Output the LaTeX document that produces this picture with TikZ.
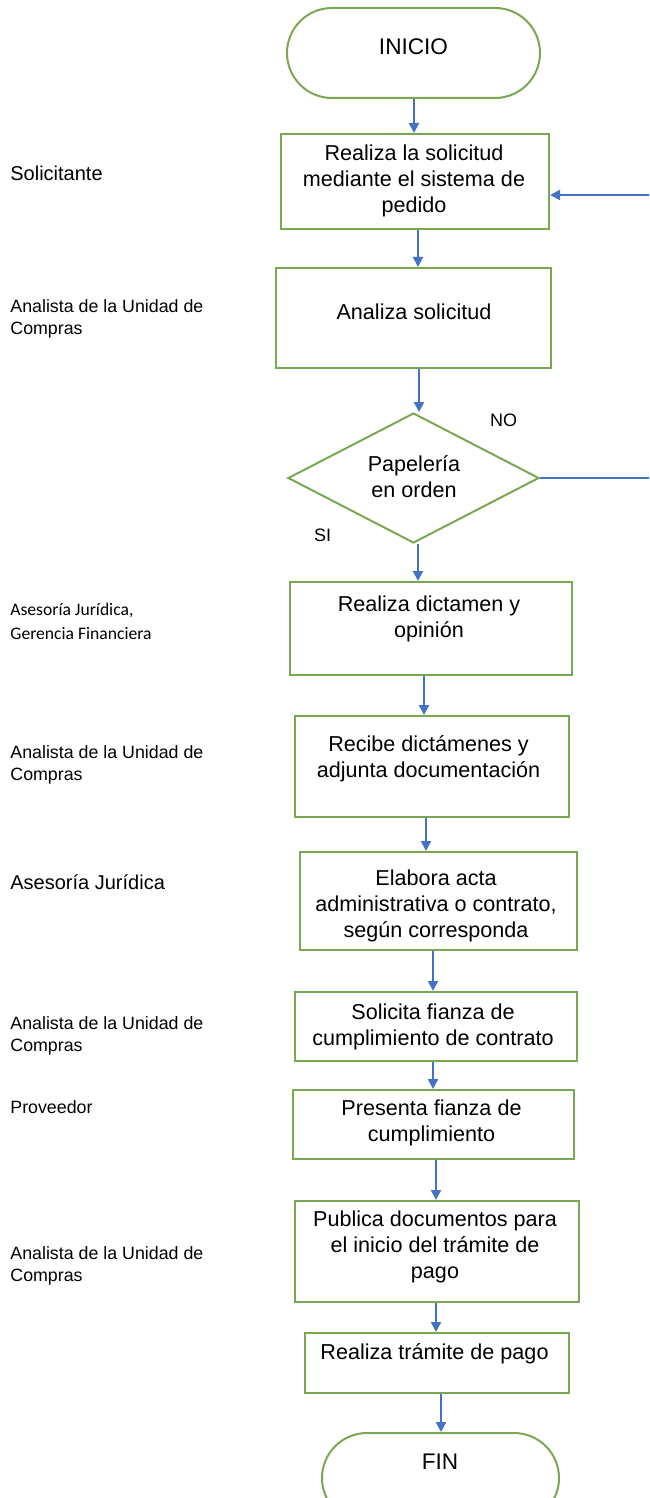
\documentclass[tikz,border=0pt]{standalone}
\usepackage{fontspec}
\setmainfont{Liberation Sans}
\newfontfamily\calfont{Carlito}
\usetikzlibrary{shapes.geometric,shapes.misc,arrows.meta}
\definecolor{boxgreen}{RGB}{122,168,82}
\definecolor{arrblue}{RGB}{68,114,196}
\begin{document}
\begin{tikzpicture}[x=0.5pt,y=-0.5pt,
  box/.style={draw=boxgreen,line width=1pt,rectangle,inner sep=0pt},
  term/.style={draw=boxgreen,line width=1pt,rounded rectangle,inner sep=0pt},
  dia/.style={draw=boxgreen,line width=1pt,diamond,inner sep=0pt},
  txt/.style={font=\fontsize{10.8}{13}\selectfont,align=center,inner sep=0pt},
  ttxt/.style={font=\fontsize{11.3}{13}\selectfont,inner sep=0pt},
  lab/.style={font=\fontsize{10}{12}\selectfont,align=left,anchor=west,inner sep=0pt},
  slab/.style={font=\fontsize{8.9}{11}\selectfont,align=left,anchor=west,inner sep=0pt},
  clab/.style={font=\calfont\fontsize{8.8}{12}\selectfont,align=left,anchor=west,inner sep=0pt},
  yn/.style={font=\fontsize{9}{11}\selectfont,inner sep=0pt},
  arr/.style={draw=arrblue,line width=1pt,-{Triangle[length=5pt,width=5pt]}}]
\useasboundingbox (0,0) rectangle (649,1498);
\fill[white] (0,0) rectangle (649,1498);
\clip (0,0) rectangle (649,1498);

% shapes
\node[term,minimum width=126.5pt,minimum height=45pt] (ini) at (413.5,53) {};
\node[box,minimum width=134pt,minimum height=47.5pt] (b1) at (415,181.5) {};
\node[box,minimum width=137.5pt,minimum height=50pt] (b2) at (413.5,318) {};
\node[dia,minimum width=125.5pt,minimum height=65pt] (d) at (413.5,478) {};
\node[box,minimum width=141pt,minimum height=46.5pt] (b3) at (431,628.5) {};
\node[box,minimum width=137pt,minimum height=50.5pt] (b4) at (432,766.5) {};
\node[box,minimum width=138.5pt,minimum height=49pt] (b5) at (438.5,901) {};
\node[box,minimum width=141pt,minimum height=34.5pt] (b6) at (436,1026.5) {};
\node[box,minimum width=140.5pt,minimum height=34.5pt] (b7) at (433.5,1124.5) {};
\node[box,minimum width=142pt,minimum height=50.5pt] (b8) at (437,1251.5) {};
\node[box,minimum width=132pt,minimum height=30pt] (b9) at (437,1363) {};
\node[term,minimum width=118.5pt,minimum height=45pt] (fin) at (440.5,1478) {};

% texts in shapes
\node[ttxt] (tini) at (413.5,47) {INICIO};
\node[txt] (t1) at (414,180.5) {Realiza la solicitud\\mediante el sistema de\\pedido};
\node[txt] (t2) at (414,312) {Analiza solicitud};
\node[txt] (td) at (414,477) {Papelería\\en orden};
\node[txt] (t3) at (429,618.5) {Realiza dictamen y\\opinión};
\node[txt] (t4) at (428.5,758.5) {Recibe dictámenes y\\adjunta documentación};
\node[txt] (t5) at (436,906) {Elabora acta\\administrativa o contrato,\\según corresponda};
\node[txt] (t6) at (433,1027) {Solicita fianza de\\cumplimiento de contrato};
\node[txt] (t7) at (431.5,1123) {Presenta fianza de\\cumplimiento};
\node[txt] (t8) at (435,1246.5) {Publica documentos para\\el inicio del trámite de\\pago};
\node[txt] (t9) at (434.5,1354) {Realiza trámite de pago};
\node[ttxt] (tfin) at (440,1462) {FIN};

\node[yn] (no) at (503.5,420) {NO};
\node[yn] (si) at (322.5,535) {SI};

% left labels
\node[lab] (l1) at (10,173) {Solicitante};
\node[slab] (l2) at (10,319) {Analista de la Unidad de\\Compras};
\node[clab] (l3) at (10,621) {Asesoría Jurídica,\\Gerencia Financiera};
\node[slab] (l4) at (10,765) {Analista de la Unidad de\\Compras};
\node[lab] (l5) at (10,882) {Asesoría Jurídica};
\node[slab] (l6) at (10,1036) {Analista de la Unidad de\\Compras};
\node[slab] (l7) at (10,1107) {Proveedor};
\node[slab] (l8) at (10,1265.5) {Analista de la Unidad de\\Compras};

% arrow x positions
\coordinate (x1) at (414,0);
\coordinate (x2) at (418,0);
\coordinate (x3) at (419,0);
\coordinate (x4) at (418,0);
\coordinate (x5) at (424,0);
\coordinate (x6) at (426,0);
\coordinate (x7) at (433,0);
\coordinate (x8) at (433,0);
\coordinate (x9) at (436,0);
\coordinate (x10) at (436,0);
\coordinate (x11) at (441,0);

\draw[arr] (ini.south -| x1) -- (b1.north -| x1);
\draw[arr] (b1.south -| x2) -- (b2.north -| x2);
\draw[arr] (b2.south -| x3) -- (d.north -| x3);
\draw[arr] (d.south -| x4) -- (b3.north -| x4);
\draw[arr] (b3.south -| x5) -- (b4.north -| x5);
\draw[arr] (b4.south -| x6) -- (b5.north -| x6);
\draw[arr] (b5.south -| x7) -- (b6.north -| x7);
\draw[arr] (b6.south -| x8) -- (b7.north -| x8);
\draw[arr] (b7.south -| x9) -- (b8.north -| x9);
\draw[arr] (b8.south -| x10) -- (b9.north -| x10);
\draw[arr] (b9.south -| x11) -- (fin.north -| x11);

% NO loop (vertical part lies just beyond the right edge)
\coordinate (rb) at (653,478);
\coordinate (rt) at (653,195);
\draw[arr] (d.east) -- (rb) -- (rt) -- (b1.east |- rt);
\end{tikzpicture}
\end{document}
